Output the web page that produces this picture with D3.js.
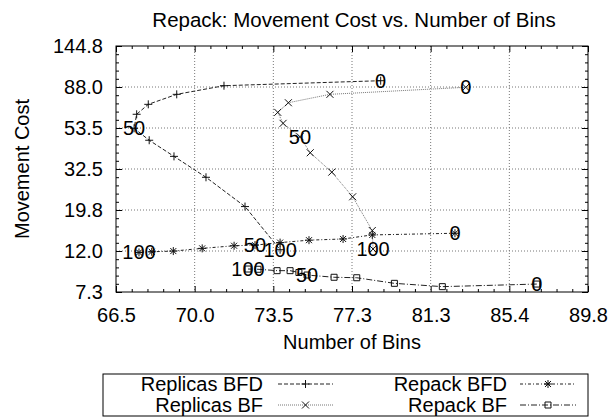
<!DOCTYPE html>
<html>
<head>
<meta charset="utf-8">
<script src="https://cdn.jsdelivr.net/npm/d3@7"></script>
<style>
  body { margin: 0; background: #fff; }
  svg { font-family: "Liberation Sans", Arial, sans-serif; }
</style>
</head>
<body>
<div id="chart"></div>
<script>
// parameter values along each curve (0..100), labelled at 0, 50 and 100
var params = [0, 10, 20, 30, 40, 50, 60, 70, 80, 90, 100];
var labelled = [0, 50, 100];

var replicasBfdX = [78.70, 71.23, 69.12, 67.88, 67.38, 67.27, 67.92, 69.00, 70.42, 72.19, 73.82];
var replicasBfdY = [95.0, 89.4, 80.5, 71.3, 63.2, 53.3, 46.1, 37.9, 29.4, 20.6, 12.2];
var replicasBfX = [83.08, 76.20, 74.21, 73.71, 73.96, 74.76, 75.25, 76.29, 77.31, 78.28, 78.32];
var replicasBfY = [87.7, 80.5, 72.7, 64.7, 56.6, 48.1, 39.6, 31.3, 23.2, 15.4, 12.3];
var repackBfdX = [82.51, 78.28, 76.84, 75.19, 73.82, 72.65, 71.69, 70.25, 68.97, 68.03, 67.48];
var repackBfdY = [14.9, 14.6, 13.9, 13.7, 13.3, 12.9, 12.8, 12.4, 12.0, 11.9, 11.8];
var repackBfX = [86.92, 81.85, 79.39, 77.51, 76.40, 75.10, 74.71, 74.29, 73.68, 72.79, 72.33];
var repackBfY = [8.04, 7.79, 8.11, 8.68, 8.73, 8.97, 9.25, 9.46, 9.46, 9.62, 9.65];

var xTickLabels = ["66.5", "70.0", "73.5", "77.3", "81.3", "85.4", "89.8"];
var yTickLabels = ["7.3", "12.0", "19.8", "32.5", "53.5", "88.0", "144.8"];

//Chart sizes (plot box edges in pixels)
var width = 609, height = 419;
var pLeft = 116, pRight = 588, pTop = 46, pBottom = 292;

var xMin = 66.5, xMax = 89.8, yMin = 7.3, yMax = 144.8;

var x = d3.scaleLog().domain([xMin, xMax]).range([pLeft, pRight]);
var y = d3.scaleLog().domain([yMin, yMax]).range([pBottom, pTop]);

//ticks are evenly spaced on the log axis
var xTicks = xTickLabels.map(function(d, i){ return xMin * Math.pow(xMax / xMin, i / 6); });
var yTicks = yTickLabels.map(function(d, i){ return yMin * Math.pow(yMax / yMin, i / 6); });
var xMinor = [], yMinor = [];
for (var i = 0; i < 30; i++){
    if (i % 5 != 0){
        xMinor.push(xMin * Math.pow(xMax / xMin, i / 30));
        yMinor.push(yMin * Math.pow(yMax / yMin, i / 30));
    }
}

var svg = d3.select("#chart").append("svg")
    .attr("width", width)
    .attr("height", height);

//grid
svg.append("g").selectAll("line").data(xTicks.slice(1, 6)).enter().append("line")
    .attr("x1", function(d){ return x(d); }).attr("x2", function(d){ return x(d); })
    .attr("y1", pTop).attr("y2", pBottom)
    .attr("stroke", "#777").attr("stroke-dasharray", "1,2");
svg.append("g").selectAll("line").data(yTicks.slice(1, 6)).enter().append("line")
    .attr("y1", function(d){ return y(d); }).attr("y2", function(d){ return y(d); })
    .attr("x1", pLeft).attr("x2", pRight)
    .attr("stroke", "#777").attr("stroke-dasharray", "1,2");

//axes
function styleAxis(g){
    g.select(".domain").remove();
    g.selectAll("line").attr("stroke", "#000");
    g.selectAll("text").attr("font-size", 20).attr("fill", "#000").attr("font-family", "Liberation Sans, Arial, sans-serif");
}

var fmtX = function(d, i){ return xTickLabels[i]; };
var fmtY = function(d, i){ return yTickLabels[i]; };

svg.append("g").attr("transform", "translate(0," + pBottom + ")")
    .call(d3.axisBottom(x).tickValues(xTicks).tickFormat(fmtX).tickSize(-6).tickPadding(16))
    .call(styleAxis);
svg.append("g").attr("transform", "translate(0," + pBottom + ")")
    .call(d3.axisBottom(x).tickValues(xMinor).tickFormat("").tickSize(-3))
    .call(styleAxis);
svg.append("g").attr("transform", "translate(0," + pTop + ")")
    .call(d3.axisTop(x).tickValues(xTicks).tickFormat("").tickSize(-6))
    .call(styleAxis);
svg.append("g").attr("transform", "translate(0," + pTop + ")")
    .call(d3.axisTop(x).tickValues(xMinor).tickFormat("").tickSize(-3))
    .call(styleAxis);

svg.append("g").attr("transform", "translate(" + pLeft + ",0)")
    .call(d3.axisLeft(y).tickValues(yTicks).tickFormat(fmtY).tickSize(-6).tickPadding(13))
    .call(styleAxis);
svg.append("g").attr("transform", "translate(" + pLeft + ",0)")
    .call(d3.axisLeft(y).tickValues(yMinor).tickFormat("").tickSize(-3))
    .call(styleAxis);
svg.append("g").attr("transform", "translate(" + pRight + ",0)")
    .call(d3.axisRight(y).tickValues(yTicks).tickFormat("").tickSize(-6))
    .call(styleAxis);
svg.append("g").attr("transform", "translate(" + pRight + ",0)")
    .call(d3.axisRight(y).tickValues(yMinor).tickFormat("").tickSize(-3))
    .call(styleAxis);

//border
svg.append("rect")
    .attr("x", pLeft).attr("y", pTop)
    .attr("width", pRight - pLeft).attr("height", pBottom - pTop)
    .attr("fill", "none").attr("stroke", "#000");

//marker shapes
var markers = {
    plus: "M-4,0H4M0,-4V4",
    cross: "M-3.5,-3.5L3.5,3.5M-3.5,3.5L3.5,-3.5",
    star: "M-4,0H4M0,-4V4M-3,-3L3,3M-3,3L3,-3",
    square: "M-3,-3H3V3H-3Z"
};

var series = [
    {name: "Replicas BFD", xs: replicasBfdX, ys: replicasBfdY, dash: "4,2", color: "#222", marker: "plus"},
    {name: "Replicas BF", xs: replicasBfX, ys: replicasBfY, dash: "1,1", color: "#777", marker: "cross"},
    {name: "Repack BFD", xs: repackBfdX, ys: repackBfdY, dash: "3,2,1,2", color: "#222", marker: "star"},
    {name: "Repack BF", xs: repackBfX, ys: repackBfY, dash: "6,2,1,2", color: "#222", marker: "square"}
];

var line = d3.line()
    .x(function(d){ return x(d.x); })
    .y(function(d){ return y(d.y); });

series.forEach(function(s){
    var pts = params.map(function(p, i){ return {p: p, x: s.xs[i], y: s.ys[i]}; });

    svg.append("path")
        .datum(pts)
        .attr("d", line)
        .attr("fill", "none")
        .attr("stroke", s.color)
        .attr("stroke-dasharray", s.dash);

    svg.append("g").selectAll("path").data(pts).enter().append("path")
        .attr("transform", function(d){ return "translate(" + x(d.x) + "," + y(d.y) + ")"; })
        .attr("d", markers[s.marker])
        .attr("fill", "none")
        .attr("stroke", "#111");

    svg.append("g").selectAll("text")
        .data(pts.filter(function(d){ return labelled.indexOf(d.p) >= 0; }))
        .enter().append("text")
        .attr("x", function(d){ return x(d.x); })
        .attr("y", function(d){ return y(d.y); })
        .attr("text-anchor", "middle")
        .attr("dominant-baseline", "central")
        .attr("font-size", 20)
        .text(function(d){ return d.p; });
});

//titles
svg.append("text")
    .attr("x", 354).attr("y", 27)
    .attr("text-anchor", "middle")
    .attr("font-size", 20.5)
    .text("Repack: Movement Cost vs. Number of Bins");

svg.append("text")
    .attr("x", 352).attr("y", 349)
    .attr("text-anchor", "middle")
    .attr("font-size", 20)
    .text("Number of Bins");

svg.append("text")
    .attr("transform", "translate(22," + ((pTop + pBottom) / 2) + ") rotate(-90)")
    .attr("text-anchor", "middle")
    .attr("dominant-baseline", "central")
    .attr("font-size", 20)
    .text("Movement Cost");

//legend
svg.append("rect")
    .attr("x", 103).attr("y", 374)
    .attr("width", 485).attr("height", 42)
    .attr("fill", "none").attr("stroke", "#000");

var legendPos = [
    {tx: 263, lx1: 278, lx2: 333, ly: 384},
    {tx: 263, lx1: 278, lx2: 333, ly: 405},
    {tx: 507, lx1: 520, lx2: 576, ly: 384},
    {tx: 507, lx1: 520, lx2: 576, ly: 405}
];

series.forEach(function(s, i){
    var p = legendPos[i];
    svg.append("text")
        .attr("x", p.tx).attr("y", p.ly)
        .attr("text-anchor", "end")
        .attr("dominant-baseline", "central")
        .attr("font-size", 20)
        .text(s.name);
    svg.append("line")
        .attr("x1", p.lx1).attr("x2", p.lx2)
        .attr("y1", p.ly).attr("y2", p.ly)
        .attr("stroke", s.color)
        .attr("stroke-dasharray", s.dash);
    svg.append("path")
        .attr("transform", "translate(" + ((p.lx1 + p.lx2) / 2) + "," + p.ly + ")")
        .attr("d", markers[s.marker])
        .attr("fill", "none")
        .attr("stroke", "#111");
});
</script>
</body>
</html>
